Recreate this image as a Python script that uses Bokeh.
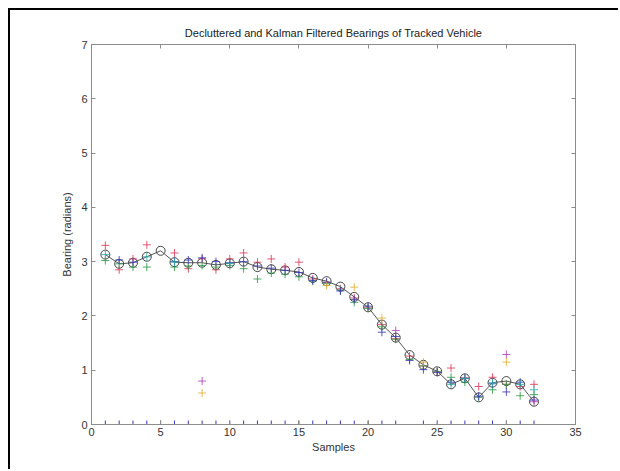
import numpy as np
from bokeh.plotting import figure
from bokeh.layouts import column
from bokeh.models import Range1d, FixedTicker, LinearAxis, CustomLabelingPolicy
from bokeh.embed import file_html
from bokeh.resources import INLINE

nan = float("nan")

samples = list(range(1, 33))

# Kalman filtered estimate (line with circles)
filtered = [3.13, 2.96, 2.98, 3.09, 3.20, 2.99, 2.98, 2.98, 2.94, 2.97, 3.00, 2.90,
            2.86, 2.84, 2.81, 2.70, 2.64, 2.54, 2.35, 2.16, 1.84, 1.60, 1.28, 1.10,
            0.98, 0.74, 0.85, 0.50, 0.77, 0.80, 0.74, 0.42]

# Decluttered measurements (plus markers), one list per colour
meas_red = [3.30, 2.85, 3.05, 3.31, nan, 3.16, 2.87, 3.05, 2.85, 3.05, 3.16, 2.99,
            3.05, 2.90, 2.99, 2.68, 2.62, 2.50, 2.33, 2.15, 1.84, 1.58, 1.26, 1.08,
            0.97, 1.04, 0.86, 0.70, 0.87, 0.74, 0.70, 0.74]
meas_green = [3.02, 2.96, 2.90, 2.90, nan, 2.90, 2.92, 2.93, 2.90, 2.93, 2.87, 2.68,
              2.79, 2.77, 2.72, 2.64, 2.60, 2.48, 2.25, 2.14, 1.80, 1.57, 1.20, 1.08,
              0.98, 0.87, 0.78, 0.50, 0.64, 0.74, 0.53, 0.55]
meas_blue = [nan, 3.03, 2.99, nan, nan, 3.00, 3.03, 3.07, 3.00, 2.98, 3.00, 2.92,
             2.88, 2.84, 2.80, 2.65, 2.62, 2.46, 2.30, 2.18, 1.70, 1.62, 1.18, 1.01,
             0.96, 0.78, 0.85, 0.52, 0.75, 0.60, 0.78, 0.45]
meas_cyan = [3.13, nan, nan, 3.09, nan, 2.99, nan, nan, nan, 2.97, nan, nan,
             nan, nan, nan, nan, nan, nan, nan, nan, nan, nan, nan, nan,
             nan, 0.74, 0.85, nan, 0.77, nan, 0.74, 0.64]
meas_magenta = [nan, nan, nan, nan, nan, nan, nan, 0.80, nan, nan, nan, nan,
                nan, nan, nan, nan, nan, nan, nan, nan, nan, 1.73, nan, nan,
                nan, nan, nan, nan, nan, 1.29, nan, 0.42]
meas_yellow = [nan, nan, nan, nan, nan, nan, nan, 0.58, nan, nan, nan, nan,
               nan, nan, nan, nan, 2.56, nan, 2.53, nan, 1.96, nan, nan, 1.15,
               nan, nan, nan, nan, nan, 1.15, nan, nan]
# clutter rejected to zero
zero_samples = [s for s in samples if s != 23]
zero_values = [0.0 for s in zero_samples]

x_ticks = [0, 5, 10, 15, 20, 25, 30, 35]
y_ticks = [0, 1, 2, 3, 4, 5, 6, 7]

FONT = "Liberation Sans"
AX = "#8c8c8c"

p = figure(width=610, height=461, output_backend="svg", toolbar_location=None,
           x_range=Range1d(0, 35), y_range=Range1d(0, 7),
           min_border_left=81, min_border_right=45, min_border_top=34, min_border_bottom=47,
           title="Decluttered and Kalman Filtered Bearings of Tracked Vehicle",
           styles={"box-shadow": "-2px -2px 0px 0px black"})

p.title.align = "center"
p.title.text_font = FONT
p.title.text_font_size = "11px"
p.title.text_font_style = "normal"
p.title.text_color = "#222222"
p.title.standoff = 3

p.grid.visible = False
p.outline_line_color = AX
p.background_fill_color = "white"
p.border_fill_color = "white"

def style_axis(ax, size="11px"):
    ax.axis_line_color = AX
    ax.major_tick_line_color = AX
    ax.major_tick_in = 4
    ax.major_tick_out = 0
    ax.minor_tick_line_color = None
    ax.major_label_text_font = FONT
    ax.major_label_text_font_size = size
    ax.major_label_text_color = "#333333"
    ax.axis_label_text_font = FONT
    ax.axis_label_text_font_size = "11px"
    ax.axis_label_text_font_style = "normal"
    ax.axis_label_text_color = "#333333"

p.xaxis.ticker = FixedTicker(ticks=x_ticks)
p.yaxis.ticker = FixedTicker(ticks=y_ticks)
style_axis(p.xaxis[0])
style_axis(p.yaxis[0])
p.xaxis.axis_label = "Samples"
p.yaxis.axis_label = "Bearing (radians)"
p.xaxis.major_label_standoff = 3
p.yaxis.major_label_standoff = 4
p.xaxis.axis_label_standoff = 2
p.yaxis.axis_label_standoff = 5

hide_labels = "for (const i of indices) { indices.unset(i) }\nreturn indices"
top = LinearAxis(ticker=FixedTicker(ticks=x_ticks),
                 major_label_policy=CustomLabelingPolicy(code=hide_labels))
style_axis(top, size="1px")
top.major_label_standoff = 0
p.add_layout(top, "above")
right = LinearAxis(ticker=FixedTicker(ticks=y_ticks),
                   major_label_policy=CustomLabelingPolicy(code=hide_labels))
style_axis(right, size="1px")
right.major_label_standoff = 0
p.add_layout(right, "right")

msize = 8
p.scatter(zero_samples, zero_values, marker="cross", size=msize, color="#3a3ab8", line_width=1)
p.line(samples, filtered, line_color="#555555", line_width=1)
p.scatter(samples, filtered, marker="circle", size=9, fill_color=None,
          line_color="#444444", line_width=1)

series = [
    (meas_red, "#dc3c5c"),
    (meas_green, "#2f9a4a"),
    (meas_blue, "#3a3ab8"),
    (meas_cyan, "#2aa8a8"),
    (meas_magenta, "#b040b8"),
    (meas_yellow, "#e0b030"),
]
for vals, col in series:
    xs = [s for s, v in zip(samples, vals) if not np.isnan(v)]
    ys = [v for v in vals if not np.isnan(v)]
    p.scatter(xs, ys, marker="cross", size=msize, color=col, line_width=1, alpha=0.85)

layout = column(p, styles={"padding-left": "10px", "padding-top": "10px", "background": "white"})

open("out.html", "w").write(file_html(layout, INLINE))
